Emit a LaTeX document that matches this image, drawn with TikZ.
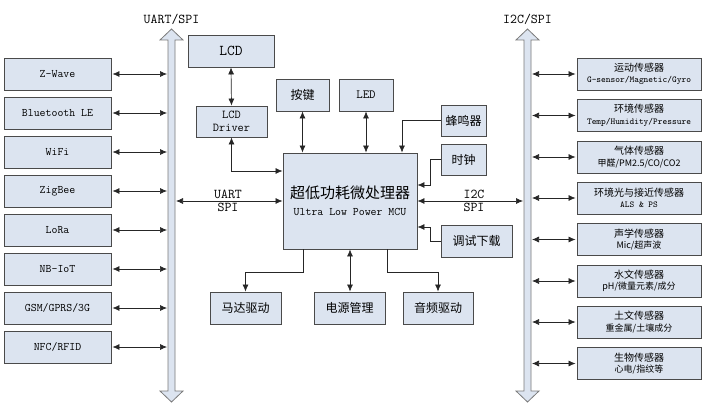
\documentclass[tikz,border=0pt]{standalone}
\usepackage{fontspec}
\newfontfamily\cjk{Noto Sans CJK SC}
\usetikzlibrary{arrows.meta}
\definecolor{boxfill}{HTML}{DCE4F0}
\definecolor{boxline}{HTML}{4A4A4A}
\definecolor{busline}{HTML}{7A7A7A}
\begin{document}
\begin{tikzpicture}[x=1pt,y=-1pt,
  box/.style={draw=boxline, fill=boxfill, line width=0.9pt, inner sep=1pt, align=center, minimum height=32pt},
  lbox/.style={box, minimum width=107pt, font=\ttfamily\fontsize{11.5}{13}\selectfont},
  rbox/.style={box, minimum width=124pt, font=\ttfamily\fontsize{9}{11.5}\selectfont},
  cbox/.style={box, font=\cjk\fontsize{12}{14}\selectfont},
  conn/.style={line width=0.7pt, draw=black!85},
  arr/.style={conn, -{Latex[length=7pt,width=6pt]}},
  darr/.style={conn, {Latex[length=7pt,width=6pt]}-{Latex[length=7pt,width=6pt]}},
  bus/.style={draw=busline, fill=boxfill, line width=0.8pt},
  lbl/.style={font=\ttfamily\fontsize{13.5}{15}\selectfont, inner sep=1pt},
  sub/.style={}
]
\fill[white] (0,0) rectangle (709,409);
\useasboundingbox (0,0) rectangle (709,409);

% buses
\draw[bus] (168,40) -- (160,40) -- (171.5,29) -- (183,40) -- (175,40) -- (175,391) -- (183,391) -- (171.5,402) -- (160,391) -- (168,391) -- cycle;
\draw[bus] (524,40) -- (516,40) -- (527.5,29) -- (539,40) -- (531,40) -- (531,391) -- (539,391) -- (527.5,402) -- (516,391) -- (524,391) -- cycle;
\coordinate (lbusL) at (167,0);
\coordinate (lbusR) at (176,0);
\coordinate (rbusL) at (523,0);
\coordinate (rbusR) at (532,0);
\node[lbl] (lhead) at (171.5,19) {UART/SPI};
\node[lbl] (rhead) at (527.5,19) {I2C/SPI};

% left boxes
\node[lbox] (zw)  at (57.5,74)  {Z-Wave};
\node[lbox] (ble) at (57.5,113) {Bluetooth LE};
\node[lbox] (wifi) at (57.5,152) {WiFi};
\node[lbox] (zig) at (57.5,191) {ZigBee};
\node[lbox] (lora) at (57.5,230) {LoRa};
\node[lbox] (nb)  at (57.5,269) {NB-IoT};
\node[lbox] (gsm) at (57.5,308) {GSM/GPRS/3G};
\node[lbox] (nfc) at (57.5,347) {NFC/RFID};
\foreach \n in {zw,ble,wifi,zig,lora,nb,gsm,nfc}
  \draw[darr] ([xshift=1pt]\n.east) -- (\n.east -| lbusL);

% right boxes
\newcommand\hdr[1]{{\cjk\fontsize{10}{12}\selectfont #1}}
\newcommand\mix[1]{{\cjk\fontsize{9}{11.5}\selectfont #1}}
\node[rbox] (s1) at (639,74)    {\hdr{运动传感器}\\G-sensor/Magnetic/Gyro};
\node[rbox] (s2) at (639,115.5) {\hdr{环境传感器}\\Temp/Humidity/Pressure};
\node[rbox] (s3) at (639,157)   {\hdr{气体传感器}\\\mix{甲醛/PM2.5/CO/CO2}};
\node[rbox] (s4) at (639,198)   {\hdr{环境光与接近传感器}\\ALS \& PS};
\node[rbox] (s5) at (639,239.5) {\hdr{声学传感器}\\\mix{Mic/超声波}};
\node[rbox] (s6) at (639,281)   {\hdr{水文传感器}\\\mix{pH/微量元素/成分}};
\node[rbox] (s7) at (639,322)   {\hdr{土文传感器}\\\mix{重金属/土壤成分}};
\node[rbox] (s8) at (639,363.5) {\hdr{生物传感器}\\\mix{心电/指纹等}};
\foreach \n in {s1,s2,s3,s4,s5,s6,s7,s8}
  \draw[darr] (\n.west -| rbusR) -- ([xshift=-1pt]\n.west);

% center
\node[box, minimum width=134pt, minimum height=96pt, font=\ttfamily\fontsize{11.5}{17}\selectfont] (mcu) at (350,201)
  {{\cjk\fontsize{15}{17}\selectfont 超低功耗微处理器}\\Ultra Low Power MCU};
\node[box, minimum width=86pt, font=\ttfamily\fontsize{15}{17}\selectfont] (lcd) at (231,51) {LCD};
\node[box, minimum width=71pt, minimum height=31pt, font=\ttfamily\fontsize{12}{13.5}\selectfont] (drv) at (231.5,121.5) {LCD\\Driver};
\node[cbox, minimum width=53pt] (key) at (302.5,95) {按键};
\node[box, minimum width=54pt, font=\ttfamily\fontsize{12.5}{14}\selectfont] (led) at (366,95) {LED};
\node[cbox, minimum width=45pt, minimum height=31pt] (bz) at (463.5,120.5) {蜂鸣器};
\node[cbox, minimum width=45pt, minimum height=31pt] (clk) at (463.5,159.5) {时钟};
\node[cbox, minimum width=71pt] (dbg) at (476.5,241) {调试下载};
\node[cbox, minimum width=71pt] (mot) at (245.5,308) {马达驱动};
\node[cbox, minimum width=71pt] (pwr) at (349.5,308) {电源管理};
\node[cbox, minimum width=70pt] (aud) at (438,308) {音频驱动};

% connectors
\draw[darr] (lcd.south) -- (drv.north);
\draw[darr] (drv.south) |- ([yshift=30pt]mcu.west);
\draw[darr] (key.south) -- (key.south |- mcu.north);
\draw[darr] (led.south) -- (led.south |- mcu.north);
\draw[arr] (bz.west) -| ([xshift=52pt]mcu.north);
\draw[arr] (clk.west) -- ++(-10,0) |- ([yshift=16pt]mcu.east);
\draw[arr] (dbg.west) -- ++(-10,0) |- ([yshift=-26pt]mcu.east);
\draw[darr] (mcu.west -| lbusR) -- (mcu.west);
\draw[darr] (mcu.east) -- (mcu.east -| rbusL);
\node[lbl, anchor=south] (uart) at (228,200) {UART};
\node[lbl, anchor=north] (spil) at (228,202) {SPI};
\node[lbl, anchor=south] (i2c) at (474,200) {I2C};
\node[lbl, anchor=north] (spir) at (474,202) {SPI};
\draw[arr] ([xshift=-47pt]mcu.south) -- ++(0,23) -| (mot.north);
\draw[darr] (mcu.south) -- (pwr.north -| mcu.south);
\draw[arr] ([xshift=37pt]mcu.south) -- ++(0,23) -| (aud.north);
\end{tikzpicture}
\end{document}
